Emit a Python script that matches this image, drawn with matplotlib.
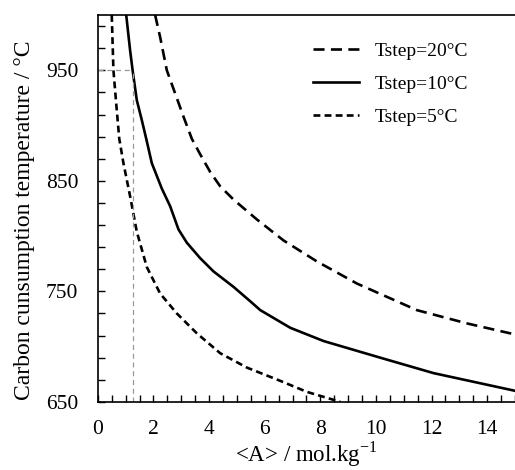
import numpy as np
import matplotlib
matplotlib.use("Agg")
import matplotlib.pyplot as plt
from matplotlib.ticker import MultipleLocator, FixedLocator

plt.rcParams['font.family'] = ['Liberation Serif', 'DejaVu Serif']
plt.rcParams['mathtext.fontset'] = 'custom'
plt.rcParams['mathtext.rm'] = 'Liberation Serif'

# Tstep = 20 C
x20 = [2.06, 2.24, 2.48, 2.78, 3.08, 3.38, 3.68, 4.04, 4.40, 4.88, 5.72, 6.68, 7.88, 9.32, 11.47, 13.27, 15.0]
t20 = [1000, 980, 950, 929, 908, 888, 874, 858, 845, 833, 815, 796, 777, 757, 733, 721, 711]
# Tstep = 10 C
x10 = [1.02, 1.16, 1.25, 1.40, 1.58, 1.74, 1.94, 2.30, 2.60, 2.90, 3.20, 3.44, 3.68, 4.16,
       4.88, 5.48, 5.84, 6.92, 8.12, 10.15, 12.07, 15.0]
t10 = [1000, 968, 950, 923, 905, 888, 866, 843, 827, 806, 794, 787, 780, 768,
       754, 741, 733, 717, 705, 690, 676, 660]
# Tstep = 5 C
x5 = [0.50, 0.56, 0.68, 0.77, 0.92, 1.16, 1.40, 1.76, 2.24, 2.84, 3.56, 4.40, 5.36, 6.56, 7.52, 8.72]
t5 = [1000, 950, 914, 888, 866, 836, 804, 772, 748, 730, 712, 694, 681, 669, 659, 650]

x_guide = 1.25
t_guide = 950
y_major = [650, 750, 850, 950]

fig = plt.figure(figsize=(5.15, 4.7), dpi=100)
ax = fig.add_axes([0.19, 0.145, 0.81, 0.823])

ax.plot(x20, t20, color='black', lw=1.9, dashes=(4.2, 2.4), label='Tstep=20°C')
ax.plot(x10, t10, color='black', lw=1.9, label='Tstep=10°C')
ax.plot(x5, t5, color='black', lw=1.9, dashes=(2.6, 1.6), label='Tstep=5°C')

ax.plot([0, x_guide], [t_guide, t_guide], color='#999999', lw=0.9, dashes=(4, 3))
ax.plot([x_guide, x_guide], [650, t_guide], color='#999999', lw=0.9, dashes=(4, 3))

ax.set_xlim(0, 15)
ax.set_ylim(650, 1000)
ax.xaxis.set_major_locator(MultipleLocator(2))
ax.xaxis.set_minor_locator(MultipleLocator(0.5))
ax.yaxis.set_major_locator(FixedLocator(y_major))
ax.yaxis.set_minor_locator(FixedLocator(np.arange(650, 1000, 20)))
ax.tick_params(which='both', direction='in', length=5, width=1, labelsize=15.5, top=False, right=False)
ax.tick_params(axis='x', pad=13)
ax.tick_params(axis='y', pad=14)
ax.spines['right'].set_visible(False)
for s in ['left', 'bottom', 'top']:
    ax.spines[s].set_linewidth(1.2)

ax.set_xlabel('<A> / mol.kg$^{-1}$', fontsize=16.5, labelpad=0)
ax.set_ylabel('Carbon cunsumption temperature / °C', fontsize=17)
ax.yaxis.set_label_coords(-0.15, 0.47)

ax.legend(loc='upper right', bbox_to_anchor=(0.93, 0.975), frameon=False, fontsize=14,
          handlelength=2.4, labelspacing=0.8)

fig.savefig('out.png', dpi=100)
